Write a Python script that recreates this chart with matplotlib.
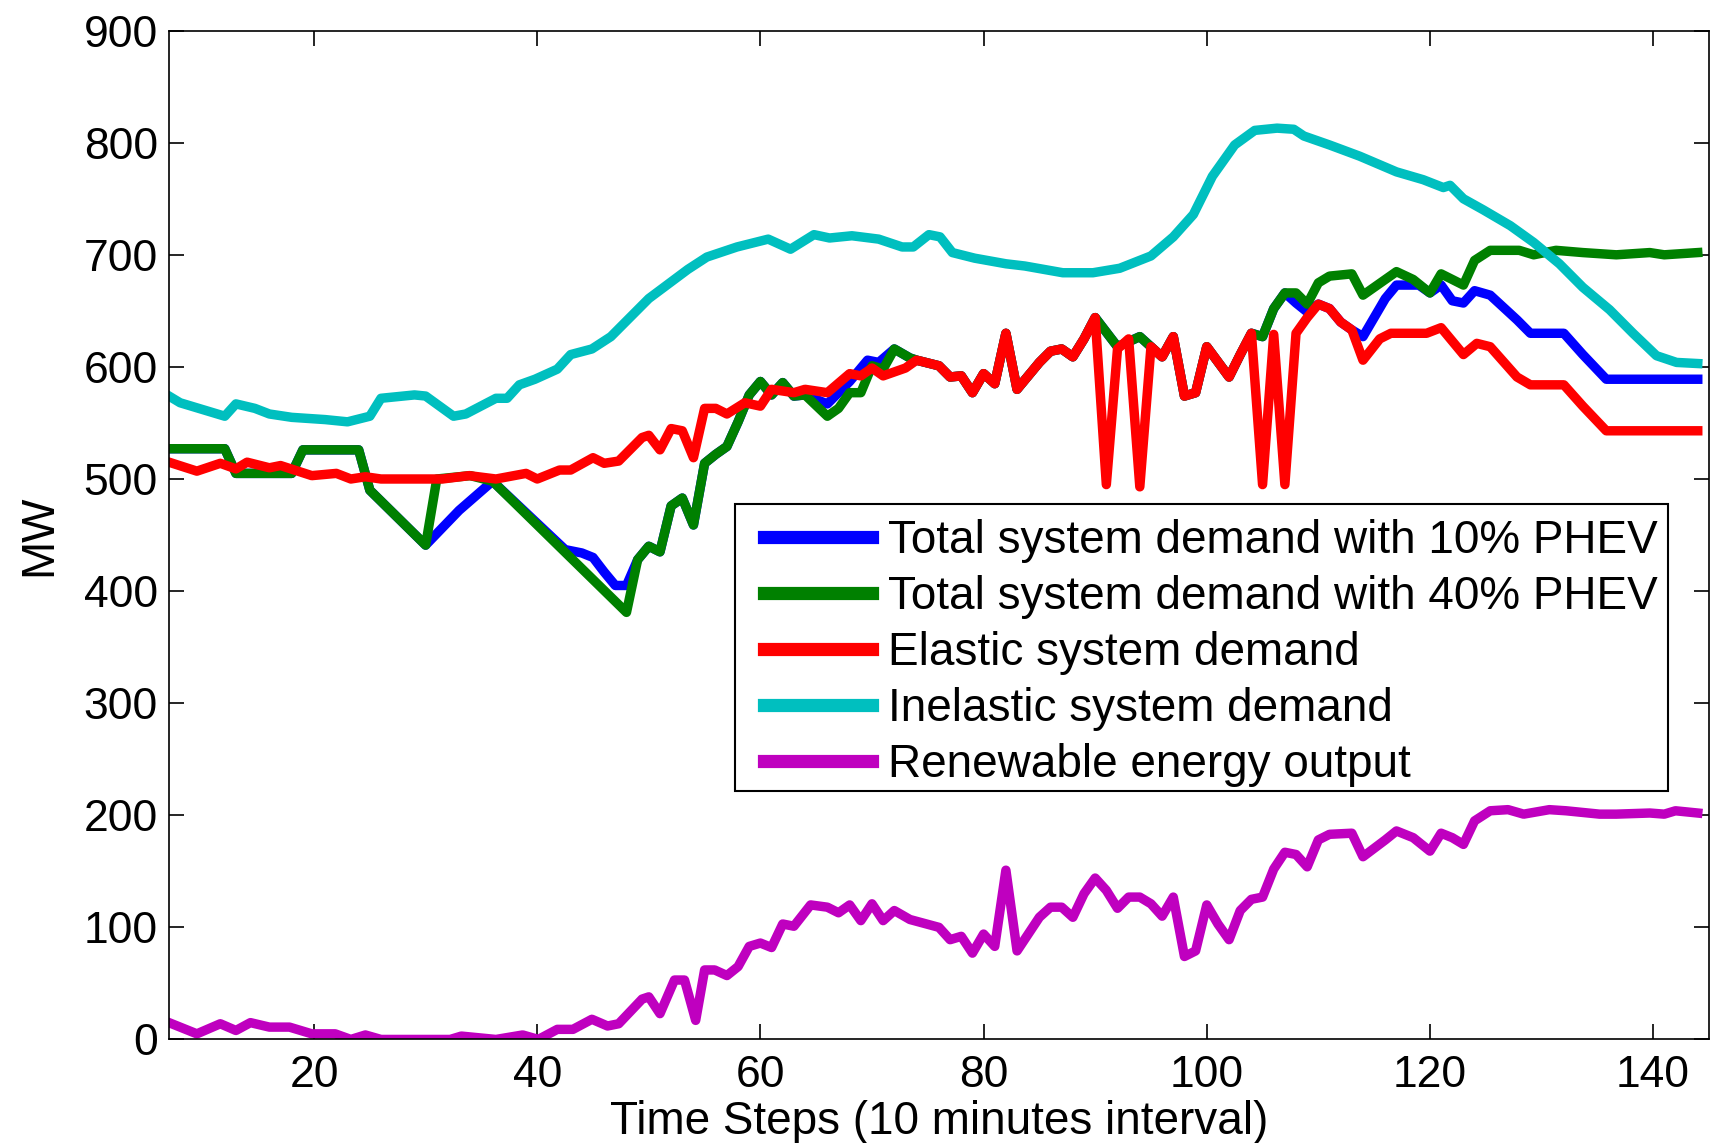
import matplotlib
matplotlib.use("Agg")
import matplotlib.pyplot as plt
from matplotlib.patches import Rectangle

plt.rcParams['font.family'] = ['Liberation Sans', 'DejaVu Sans']

# total demand with 10% PHEV
blue_t = [7, 12, 13, 18, 19, 24, 25, 30, 33, 36, 42.5, 44, 45, 46, 47, 48, 49, 50, 51, 52,
          53, 54, 55, 56, 57, 58, 59, 60, 61, 62, 63, 64, 66, 68, 69.6, 70.6, 72, 73.4, 74,
          76, 77, 78, 79, 80, 81, 82, 83, 85, 86, 87, 88, 89, 90, 92, 94, 95, 96, 97, 98, 99,
          100, 102, 103, 104, 105, 106, 107, 108, 109, 110, 111, 112, 113, 114, 116, 117,
          119, 120, 121, 122, 123, 124, 125.4, 127.8, 129, 132, 133.7, 135.8, 144]
blue_mw = [527, 527, 505, 505, 526, 526, 490, 441, 472, 498, 437, 434, 430, 417, 405, 405, 428, 440, 435, 476,
           483, 459, 514, 522, 529, 551, 575, 587, 575, 586, 574, 575, 567, 587, 606, 604, 616, 608, 606,
           601, 591, 592, 577, 594, 585, 630, 580, 604, 614, 616, 609, 625, 644, 618, 627, 618, 609, 627, 574, 577,
           618, 591, 611, 630, 627, 652, 666, 657, 649, 656, 652, 640, 633, 627, 661, 673,
           673, 666, 673, 659, 657, 668, 664, 642, 630, 630, 611, 589, 589]

# total demand with 40% PHEV
green_t = [7, 12, 13, 18, 19, 24, 25, 30, 31, 34, 36, 48, 49, 50, 51, 52, 53, 54, 55, 56,
           57, 58, 59, 60, 61, 62, 63, 64, 66, 67, 68, 69, 70, 71, 72, 73.4, 74,
           76, 77, 78, 79, 80, 81, 82, 83, 85, 86, 87, 88, 89, 90, 92, 94, 95, 96, 97, 98, 99,
           100, 102, 103, 104, 105, 106, 107, 108, 109, 110, 111, 113, 114, 116, 117, 118.5,
           120, 121, 122, 123, 124, 125.4, 128, 129.3, 131.3, 133.7, 136.7, 139.7, 141, 144]
green_mw = [527, 527, 505, 505, 526, 526, 490, 441, 500, 503, 498, 381, 428, 440, 435, 476, 483, 459, 514, 522,
            529, 551, 575, 587, 575, 586, 574, 575, 556, 563, 577, 577, 601, 598, 616, 608, 606,
            601, 591, 592, 577, 594, 585, 630, 580, 604, 614, 616, 609, 625, 644, 618, 627, 618, 609, 627, 574, 577,
            618, 591, 611, 630, 627, 652, 666, 666, 656, 675, 681, 683, 664, 678, 685, 678,
            666, 683, 678, 673, 695, 704, 704, 700, 704, 702, 700, 702, 700, 702]

# elastic demand
red_t = [7, 9.5, 11.6, 13, 14, 16, 17, 19.8, 22, 23.3, 24.6, 26, 31.5, 33.9, 36.3, 39, 40, 42, 43,
         45, 46, 47.3, 49.4, 50, 51, 52, 53, 54, 55, 56, 57, 58.6, 60, 61, 63, 64, 66, 68, 69, 70,
         71, 73, 74, 76, 77, 78, 79, 80, 81, 82, 83, 85, 86, 87, 88, 89, 90, 91, 92, 93, 94, 95,
         96, 97, 98, 99, 100, 102, 103, 104, 105, 106, 107, 108, 109, 110, 111, 112, 113, 114,
         115.5, 116.5, 119.7, 121, 123, 124.2, 125.4, 127.8, 129, 132, 133.7, 135.8, 144]
red_mw = [515, 507, 514, 509, 515, 510, 512, 503, 505, 500, 502, 500, 500, 503, 500, 505, 500, 508, 508,
          519, 514, 516, 537, 539, 526, 545, 543, 519, 563, 563, 558, 568, 565, 580, 577, 580, 577, 594, 592, 599,
          592, 599, 606, 601, 591, 592, 577, 594, 585, 630, 580, 604, 614, 616, 609, 625, 644, 495, 616, 625, 493, 618,
          609, 627, 574, 577, 618, 591, 611, 630, 495, 629, 495, 630, 644, 656, 652, 640, 633, 606,
          625, 630, 630, 635, 611, 621, 618, 591, 584, 584, 565, 543, 543]

# inelastic demand
cyan_t = [7, 8, 12, 13, 14.7, 16, 18, 21, 23, 25, 26, 29, 30, 32.5, 33.6, 36.3, 37.3, 38.4, 39.8,
          41.8, 43, 44.9, 46.6, 50, 53.5, 55.2, 57.9, 60.7, 62.7, 64.8, 66.2, 68.2, 70.6, 72.7,
          73.7, 75.1, 76.1, 77.2, 79.2, 82, 83.7, 85.4, 87.1, 89.8, 92.2, 95, 97, 98.8, 100.5,
          102.5, 104.3, 106.3, 107.8, 108.7, 111, 113.7, 117, 119.4, 121.2, 121.8, 123, 124.8,
          127.2, 129.3, 131.6, 133.7, 136.1, 138.2, 140.3, 142.1, 144]
cyan_mw = [574, 568, 556, 567, 563, 558, 555, 553, 551, 556, 572, 575, 574, 556, 558, 572, 572, 584, 589,
           598, 611, 616, 627, 661, 687, 698, 707, 714, 705, 718, 715, 717, 714, 707,
           707, 718, 716, 702, 697, 692, 690, 687, 684, 684, 688, 699, 716, 736, 770,
           798, 811, 813, 812, 806, 798, 788, 774, 767, 760, 762, 750, 740,
           726, 711, 692, 671, 651, 630, 610, 604, 603]

# renewable output
ren_t = [7, 9.5, 11.6, 13, 14.3, 16, 17.8, 19.8, 21.9, 23.3, 24.6, 26, 32.2, 33.2, 36.3, 38.7,
         40.1, 41.8, 43.2, 44.9, 46.3, 47.3, 49.4, 50, 51, 52.3, 53.2, 54.2, 55, 55.9, 57, 58,
         59, 60, 61, 62, 63, 64.5, 66, 67, 68, 69, 70, 71, 72, 73.4, 76, 77, 78, 79, 80, 81, 82,
         83, 85, 86, 87, 88, 89, 90, 91, 92, 93, 94, 95, 96, 97, 98, 99, 100, 101, 102, 103,
         104, 105, 106, 107, 108, 109, 110, 111, 113, 114, 116, 117, 118.5, 120, 121, 122, 123,
         124, 125.4, 127, 128.4, 130.7, 132.2, 135.2, 136.7, 139.7, 141, 142, 144]
ren_mw = [15, 5, 14, 8, 15, 11, 11, 5, 5, 0, 4, 0, 0, 3, 0, 4,
          0, 9, 9, 18, 12, 14, 36, 38, 23, 53, 53, 17, 62, 62, 57, 65,
          83, 86, 82, 103, 101, 120, 118, 113, 120, 106, 121, 106, 115, 107, 100, 89, 92, 77, 94, 83, 151,
          79, 109, 118, 118, 109, 130, 144, 133, 117, 127, 127, 121, 110, 127, 74, 79, 120, 103, 89, 115,
          125, 127, 152, 167, 165, 154, 178, 183, 184, 163, 178, 186, 180, 168, 184, 180, 174,
          195, 204, 205, 201, 205, 204, 201, 201, 202, 201, 204, 202]

labels = ['Total system demand with 10% PHEV',
          'Total system demand with 40% PHEV',
          'Elastic system demand',
          'Inelastic system demand',
          'Renewable energy output']

fig = plt.figure(figsize=(17.12, 11.43), dpi=100)
ax = fig.add_axes([0.0987, 0.0906, 0.8995, 0.8826])

lw = 6.8
ax.plot(blue_t, blue_mw, color=(0, 0, 1), lw=lw, label=labels[0])
ax.plot(green_t, green_mw, color=(0, 0.5, 0), lw=lw, label=labels[1])
ax.plot(red_t, red_mw, color=(1, 0, 0), lw=lw, label=labels[2])
ax.plot(cyan_t, cyan_mw, color=(0, 0.75, 0.75), lw=lw, label=labels[3])
ax.plot(ren_t, ren_mw, color=(0.75, 0, 0.75), lw=lw, label=labels[4])

ax.set_xlim(7, 145)
ax.set_ylim(0, 900)
ax.set_xticks(range(20, 141, 20))
ax.set_yticks(range(0, 901, 100))
ax.tick_params(direction='in', length=10.8, width=1.2, top=True, right=True, labelsize=32)
ax.tick_params(axis='x', pad=11)
ax.tick_params(axis='y', pad=8)
for sp in ax.spines.values():
    sp.set_linewidth(1.2)

ax.set_xlabel('Time Steps (10 minutes interval)', fontsize=33, labelpad=3)
ax.set_ylabel('MW', fontsize=33, labelpad=16)

# legend entries without frame, box drawn separately
leg = ax.legend(loc='upper left', bbox_to_anchor=(0.3865, 0.516), borderaxespad=0,
                fontsize=33, frameon=False,
                handlelength=2.35, handletextpad=0.36, labelspacing=0.26, borderpad=0)
for ln in leg.get_lines():
    ln.set_linewidth(9.5)
ax.add_patch(Rectangle((0.3674, 0.2467), 0.9736 - 0.3674, 0.5303 - 0.2467,
                       transform=ax.transAxes, facecolor='white', edgecolor='black',
                       linewidth=1.5, zorder=4))
leg.set_zorder(5)

fig.savefig('out.png', dpi=100)
